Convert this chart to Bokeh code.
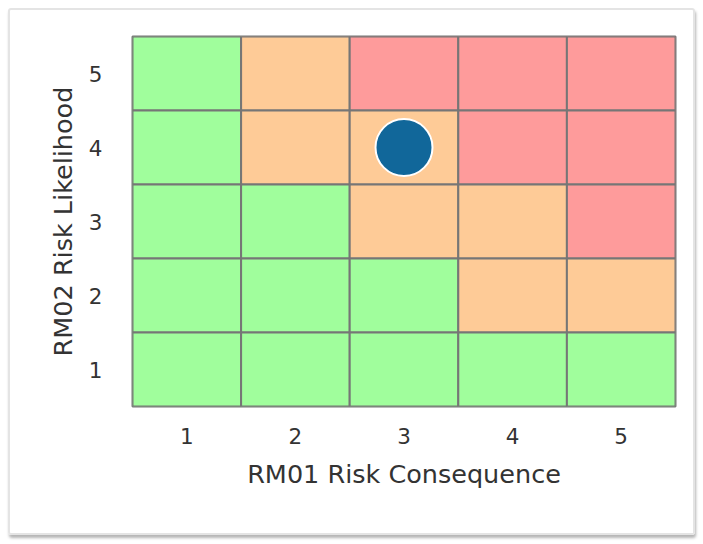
from bokeh.plotting import figure
from bokeh.models import FixedTicker, ColumnDataSource
from bokeh.embed import file_html
from bokeh.resources import INLINE

# ---- data ----
consequence = [1, 2, 3, 4, 5] * 5
likelihood = [5] * 5 + [4] * 5 + [3] * 5 + [2] * 5 + [1] * 5
level = ["G", "O", "R", "R", "R",
         "G", "O", "O", "R", "R",
         "G", "G", "O", "O", "R",
         "G", "G", "G", "O", "O",
         "G", "G", "G", "G", "G"]
palette = {"G": "#a0fe9c", "O": "#fecb97", "R": "#fe9b9b"}
risk_x = [3]
risk_y = [4]
tick_values = [1, 2, 3, 4, 5]
x_title = "RM01 Risk Consequence"
y_title = "RM02 Risk Likelihood"

FONT = "DejaVu Sans"
TXT = "#333333"
GRID = "#767676"

cells = ColumnDataSource(dict(x=consequence, y=likelihood,
                              color=[palette[l] for l in level]))

p = figure(width=687, height=527, x_range=(0.5, 5.5), y_range=(0.5, 5.5),
           output_backend="svg", toolbar_location=None,
           min_border_left=122, min_border_top=26, min_border_right=22,
           min_border_bottom=131)
p.styles = {"border": "2px solid #e4e4e4", "border-radius": "3px",
            "box-shadow": "1px 3px 3px #b5b5b5",
            "margin-left": "8px", "margin-top": "8px"}

p.rect(x="x", y="y", width=1, height=1, source=cells, fill_color="color",
       line_color=GRID, line_width=2)
p.scatter(x=risk_x, y=risk_y, size=57, fill_color="#11679a",
          line_color="white", line_width=2)

p.outline_line_color = GRID
p.outline_line_width = 2
p.xgrid.visible = False
p.ygrid.visible = False

for ax in (p.xaxis, p.yaxis):
    ax.ticker = FixedTicker(ticks=tick_values)
    ax.axis_line_color = None
    ax.major_tick_line_color = None
    ax.minor_tick_line_color = None
    ax.major_label_text_font = FONT
    ax.major_label_text_font_size = "21.5px"
    ax.major_label_text_color = TXT
    ax.axis_label_text_font = FONT
    ax.axis_label_text_font_size = "25.5px"
    ax.axis_label_text_font_style = "normal"
    ax.axis_label_text_color = TXT

p.xaxis.axis_label = x_title
p.yaxis.axis_label = y_title
p.xaxis.major_label_standoff = 15
p.yaxis.major_label_standoff = 24
p.xaxis.axis_label_standoff = 12
p.yaxis.axis_label_standoff = 8

open("out.html", "w").write(file_html(p, INLINE))
